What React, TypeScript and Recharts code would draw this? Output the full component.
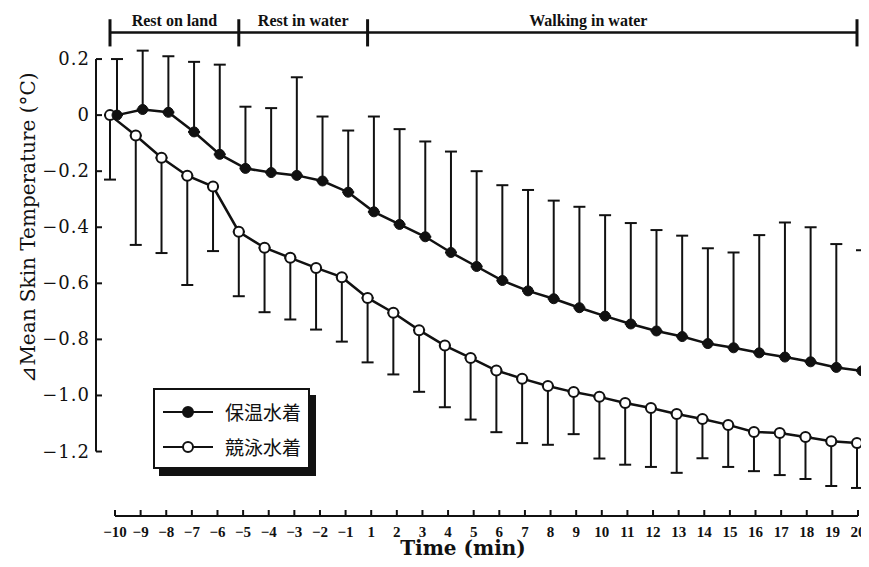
import { LineChart, Line, XAxis, YAxis, ErrorBar, ReferenceLine, Legend } from 'recharts'

const INK = '#111'

const times = [-10, -9, -8, -7, -6, -5, -4, -3, -2, -1, 1, 2, 3, 4, 5, 6, 7, 8, 9, 10, 11, 12, 13, 14, 15, 16, 17, 18, 19, 20]

// 保温水着 (filled dots, SD drawn upward)
const warmMean = [0, 0.02, 0.01, -0.06, -0.14, -0.19, -0.205, -0.215, -0.235, -0.275, -0.345, -0.39, -0.434, -0.49, -0.54, -0.59, -0.627, -0.655, -0.687, -0.717, -0.745, -0.77, -0.79, -0.815, -0.83, -0.848, -0.863, -0.88, -0.9, -0.912]
const warmSd = [0.2, 0.21, 0.2, 0.25, 0.32, 0.22, 0.23, 0.35, 0.23, 0.22, 0.34, 0.34, 0.34, 0.36, 0.34, 0.34, 0.36, 0.35, 0.36, 0.36, 0.36, 0.36, 0.36, 0.34, 0.34, 0.42, 0.48, 0.48, 0.44, 0.43]

// 競泳水着 (open dots, SD drawn downward)
const raceMean = [0, -0.073, -0.152, -0.216, -0.255, -0.416, -0.473, -0.509, -0.545, -0.578, -0.652, -0.705, -0.767, -0.822, -0.866, -0.911, -0.94, -0.966, -0.988, -1.005, -1.027, -1.045, -1.066, -1.084, -1.105, -1.13, -1.134, -1.148, -1.163, -1.17]
const raceSd = [0.23, 0.39, 0.34, 0.39, 0.23, 0.23, 0.23, 0.22, 0.22, 0.23, 0.23, 0.22, 0.22, 0.22, 0.22, 0.22, 0.23, 0.21, 0.15, 0.22, 0.22, 0.21, 0.21, 0.14, 0.15, 0.14, 0.15, 0.15, 0.16, 0.16]

const seriesNames = ['保温水着', '競泳水着']
const yTicks = [0.2, 0, -0.2, -0.4, -0.6, -0.8, -1.0, -1.2]
const yDomain = [-1.43, 0.35]

const phases = [
  { name: 'Rest on land', from: -10, to: -5 },
  { name: 'Rest in water', from: -5, to: 1 },
  { name: 'Walking in water', from: 1, to: 20 },
]
const phaseLabelDx = [0, 0, -24]
const bracketY = 0.295
const bracketTick = [0.245, 0.342]

const data = times.map((t, i) => ({
  time: t,
  warm: warmMean[i],
  warmErr: [0, warmSd[i]],
  race: raceMean[i],
  raceErr: [raceSd[i], 0],
}))

const minus = (s: string) => s.replace('-', '−')
const fmtY = (v: number) => (v === 0 ? '0' : minus(v.toFixed(1)))

const YTick = ({ x, y, payload }: any) => (
  <g>
    <line x1={x + 6} x2={x + 12} y1={y} y2={y} stroke={INK} strokeWidth={2} />
    <text x={x} y={y} dy={6} textAnchor="end" fontFamily="DejaVu Serif" fontSize={18} letterSpacing={1} fill={INK}>
      {fmtY(payload.value)}
    </text>
  </g>
)

const XTick = ({ x, y, payload }: any) => (
  <g>
    <line x1={x} x2={x} y1={y - 6} y2={y} stroke={INK} strokeWidth={2} />
    <text x={x} y={y + 21} textAnchor="middle" fontFamily="Liberation Serif" fontWeight="bold" fontSize={15} fill={INK}>
      {minus(String(payload.value))}
    </text>
  </g>
)

const YLabel = ({ viewBox }: any) => {
  const cx = viewBox.x + 20
  const cy = viewBox.y + viewBox.height / 2 - 39
  return (
    <text x={cx} y={cy} transform={`rotate(-90, ${cx}, ${cy})`} textAnchor="middle" dominantBaseline="central" fontFamily="DejaVu Serif" fontSize={20} fill={INK}>
      ⊿Mean Skin Temperature (°C)
    </text>
  )
}

const XLabel = ({ viewBox }: any) => (
  <text x={viewBox.x + viewBox.width / 2 - 19} y={viewBox.y + 39} textAnchor="middle" fontFamily="DejaVu Serif" fontWeight="bold" fontSize={20} fill={INK}>
    Time (min)
  </text>
)

const LegendBox = () => (
  <div style={{ width: 157, height: 81, boxSizing: 'border-box', border: `2px solid ${INK}`, background: '#fff', boxShadow: `6px 7px 0 ${INK}`, paddingTop: 4 }}>
    {seriesNames.map((name, i) => (
      <div key={name} style={{ display: 'flex', alignItems: 'center', height: 35 }}>
        <svg width={70} height={14}>
          <line x1={8} x2={58} y1={7} y2={7} stroke={INK} strokeWidth={2} />
          <circle cx={33} cy={7} r={5} fill={i === 0 ? INK : '#fff'} stroke={INK} strokeWidth={2} />
        </svg>
        <span style={{ fontFamily: 'Noto Sans CJK JP', fontSize: 19, color: INK, lineHeight: '20px' }}>{name}</span>
      </div>
    ))}
  </div>
)

export default function App() {
  return (
    <LineChart width={861} height={551} data={data} margin={{ top: 9, right: 1, bottom: 0, left: 0 }}>
      <XAxis xAxisId="main" dataKey="time" type="category" height={43} padding={{ left: 19, right: 10 }} axisLine={false} tickLine={false} tickSize={0} tickMargin={0} interval={0} tick={<XTick />} label={<XLabel />} />
      <XAxis xAxisId="warm" dataKey="time" type="category" hide height={0} padding={{ left: 21, right: 6 }} />
      <XAxis xAxisId="race" dataKey="time" type="category" hide height={0} padding={{ left: 14, right: 11 }} />
      <XAxis xAxisId="frame" type="number" hide height={0} domain={[0, 1]} allowDataOverflow />
      <YAxis width={88} domain={yDomain} allowDataOverflow ticks={yTicks} interval={0} axisLine={false} tickLine={false} tickSize={0} tickMargin={6} tick={<YTick />} label={<YLabel />} />

      <ReferenceLine xAxisId="frame" segment={[{ x: 0, y: yTicks[0] }, { x: 0, y: yTicks[yTicks.length - 1] }]} stroke={INK} strokeWidth={2} ifOverflow="visible" />
      <ReferenceLine xAxisId="main" segment={[{ x: times[0], y: yDomain[0] }, { x: times[times.length - 1], y: yDomain[0] }]} stroke={INK} strokeWidth={2} ifOverflow="visible" />

      {phases.map((p, i) => (
        <ReferenceLine
          key={p.name}
          xAxisId="race"
          segment={[{ x: p.from, y: bracketY }, { x: p.to, y: bracketY }]}
          stroke={INK}
          strokeWidth={2.5}
          ifOverflow="visible"
          label={{ value: p.name, position: 'top', offset: 6, dx: phaseLabelDx[i], fill: INK, fontFamily: 'Liberation Serif', fontWeight: 'bold', fontSize: 16 }}
        />
      ))}
      {[phases[0].from, ...phases.map(p => p.to)].map(b => (
        <ReferenceLine key={b} xAxisId="race" segment={[{ x: b, y: bracketTick[0] }, { x: b, y: bracketTick[1] }]} stroke={INK} strokeWidth={3} ifOverflow="visible" />
      ))}

      <Line xAxisId="race" dataKey="race" name={seriesNames[1]} type="linear" stroke={INK} strokeWidth={2.5} dot={{ r: 5, fill: '#fff', stroke: INK, strokeWidth: 2 }} isAnimationActive={false}>
        <ErrorBar dataKey="raceErr" direction="y" width={6} stroke={INK} strokeWidth={2} isAnimationActive={false} />
      </Line>
      <Line xAxisId="warm" dataKey="warm" name={seriesNames[0]} type="linear" stroke={INK} strokeWidth={2.5} dot={{ r: 5, fill: INK, stroke: INK, strokeWidth: 1 }} isAnimationActive={false}>
        <ErrorBar dataKey="warmErr" direction="y" width={6} stroke={INK} strokeWidth={2} isAnimationActive={false} />
      </Line>

      <Legend layout="vertical" align="center" verticalAlign="middle" wrapperStyle={{ left: 145, top: 380, width: 'auto' }} content={<LegendBox />} />
    </LineChart>
  )
}
